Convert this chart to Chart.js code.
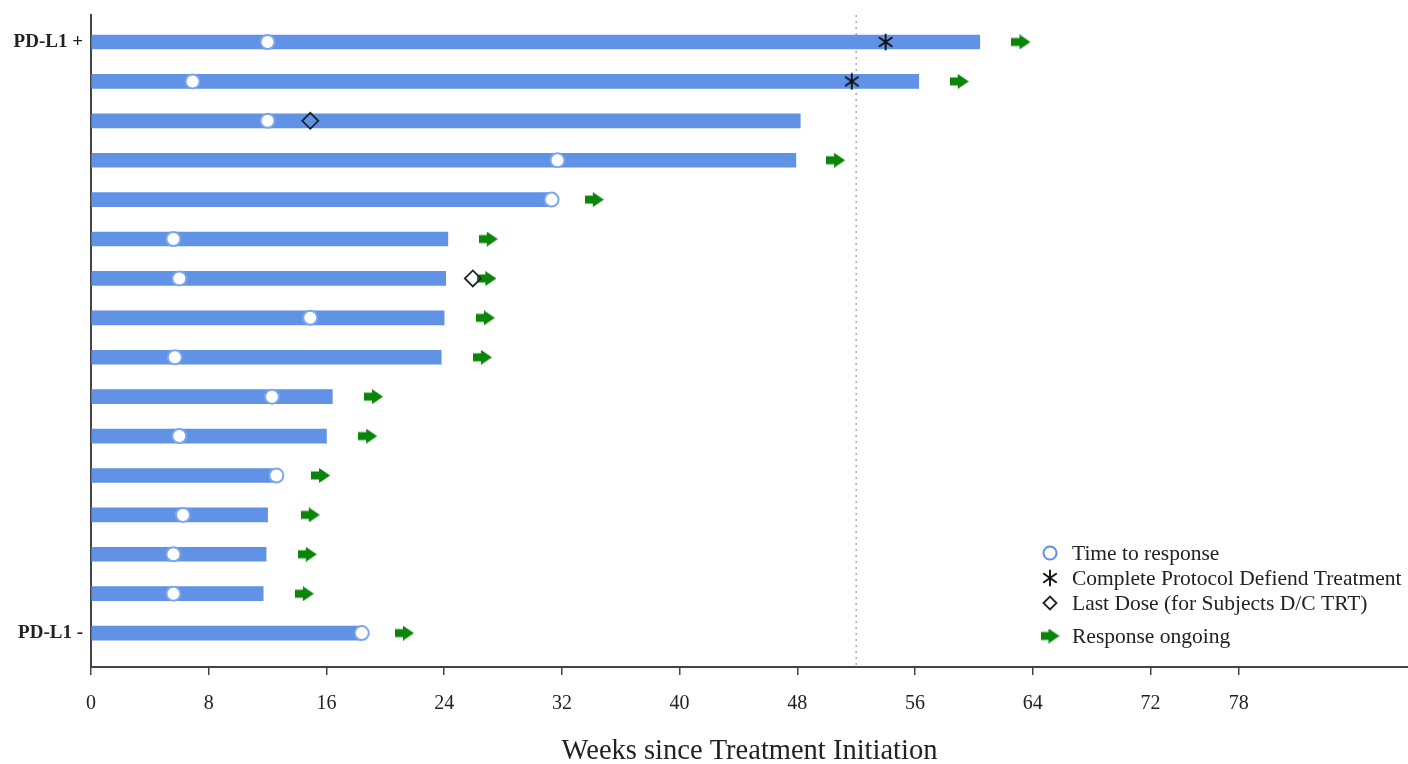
<!DOCTYPE html>
<html>
<head>
<meta charset="utf-8">
<script src="https://cdn.jsdelivr.net/npm/chart.js@4.4.0/dist/chart.umd.min.js"></script>
<style>
  html, body { margin: 0; background: #fff; overflow: hidden; }
  #wrap { position: absolute; left: 0; top: 0; width: 1408px; height: 764px; }
  #swim { display: block; }
</style>
</head>
<body>
<div id="wrap"><canvas id="swim"></canvas></div>
<script>
// one row per subject, top to bottom
const barEnd     = [60.4, 56.25, 48.2, 47.9, 31.3, 24.25, 24.1, 24.0, 23.8, 16.4, 16.0, 12.6, 12.0, 11.9, 11.7, 18.4];
const responseWk = [12.0, 6.9, 12.0, 31.7, 31.3, 5.6, 6.0, 14.9, 5.7, 12.3, 6.0, 12.6, 6.25, 5.6, 5.6, 18.4];
const completeWk = [54.0, 51.7, null, null, null, null, null, null, null, null, null, null, null, null, null, null];
const lastDoseWk = [null, null, 14.9, null, null, null, 25.95, null, null, null, null, null, null, null, null, null];
const ongoingWk  = [63.2, 59.0, null, 50.6, 34.2, 27.0, 26.9, 26.8, 26.6, 19.2, 18.8, 15.6, 14.9, 14.7, 14.5, 21.3];
const xTicks = [0, 8, 16, 24, 32, 40, 48, 56, 64, 72, 78];
const groupRows = [0, 15];
const groupLabels = ['PD-L1 +', 'PD-L1 -'];
const refWeek = 52;

const SERIF = '"Liberation Serif", "DejaVu Serif", serif';

const pts = arr => arr.map((v, i) => v == null ? null : {x: v, y: i}).filter(Boolean);

// green block arrow used as a point style
function makeArrow(){
  const c = document.createElement('canvas');
  c.width = 19; c.height = 15;
  const g = c.getContext('2d');
  g.fillStyle = '#0a850a';
  g.beginPath();
  g.moveTo(0, 3.5); g.lineTo(8, 3.5); g.lineTo(8, 0);
  g.lineTo(19, 7.5); g.lineTo(8, 15); g.lineTo(8, 11.5); g.lineTo(0, 11.5);
  g.closePath(); g.fill();
  return c;
}
// six-armed asterisk
function makeAsterisk(){
  const c = document.createElement('canvas');
  c.width = 18; c.height = 18;
  const g = c.getContext('2d');
  g.strokeStyle = '#111';
  g.lineWidth = 1.9;
  g.lineCap = 'round';
  [0, 55, 125].forEach(a => {
    const r = a * Math.PI / 180, dx = Math.sin(r) * 7.5, dy = Math.cos(r) * 7.5;
    g.beginPath(); g.moveTo(9 - dx, 9 - dy); g.lineTo(9 + dx, 9 + dy); g.stroke();
  });
  return c;
}
const arrow = makeArrow();
const asterisk = makeAsterisk();

const yMin = -0.685, yMax = 15.86;

const datasets = [
  { type: 'scatter', label: 'Time to response', data: pts(responseWk), order: 1,
    pointStyle: 'circle', pointRadius: 7, pointHoverRadius: 7,
    backgroundColor: '#fff', borderColor: '#7ea6ef', borderWidth: 2 },
  { type: 'scatter', label: 'Complete Protocol Defiend Treatment', data: pts(completeWk), order: 1,
    pointStyle: asterisk, pointRadius: 9, pointHoverRadius: 9 },
  { type: 'scatter', label: 'Last Dose (for Subjects D/C TRT)', data: pts(lastDoseWk), order: 1,
    pointStyle: 'rectRot', pointRadius: 8, pointHoverRadius: 8,
    backgroundColor: 'rgba(0,0,0,0)', borderColor: '#222', borderWidth: 1.8 },
  { type: 'scatter', label: 'Response ongoing', data: pts(ongoingWk), order: 2,
    pointStyle: arrow, pointRadius: 9, pointHoverRadius: 9 },
  { type: 'line', label: 'ref', data: [{x: refWeek, y: yMin}, {x: refWeek, y: yMax}], order: 6,
    borderColor: '#a8a8a8', borderWidth: 1.5, borderDash: [2, 4], pointRadius: 0, fill: false },
  { type: 'bar', label: 'duration', indexAxis: 'y', order: 5,
    data: barEnd.map((v, i) => ({x: v, y: i})),
    backgroundColor: '#6092e6', barThickness: 14 }
];

// draw the legend inside the plot, lower right
const legendRows = [553, 578, 603, 636];
const legendSize = [6.5, 8, 6.5, 9];
const cornerLegend = {
  id: 'cornerLegend',
  afterDraw(chart){
    const c = chart.ctx;
    c.save();
    datasets.slice(0, 4).forEach((ds, k) => {
      const y = legendRows[k];
      c.fillStyle = ds.backgroundColor || '#000';
      c.strokeStyle = k === 0 ? '#5b8ef0' : (ds.borderColor || '#000');
      c.lineWidth = ds.borderWidth || 1;
      Chart.helpers.drawPoint(c, {pointStyle: ds.pointStyle, radius: legendSize[k],
        rotation: 0, borderWidth: c.lineWidth}, 1050, y);
      c.fillStyle = '#222';
      c.font = '21.5px ' + SERIF;
      c.textBaseline = 'middle';
      c.textAlign = 'left';
      c.fillText(ds.label, 1072, y + 1);
    });
    c.restore();
  }
};

new Chart(document.getElementById('swim'), {
  type: 'scatter',
  data: { datasets },
  options: {
    responsive: true,
    maintainAspectRatio: false,
    animation: false,
    layout: { autoPadding: false, padding: { top: 15, right: 0, bottom: 0, left: 0 } },
    plugins: { legend: { display: false }, tooltip: { enabled: false } },
    scales: {
      x: {
        type: 'linear', min: 0, max: 89.5, offset: false,
        afterBuildTicks: s => { s.ticks = xTicks.map(v => ({value: v})); },
        afterFit: s => { s.height = 97; s.paddingLeft = 0; s.paddingRight = 0; },
        ticks: { color: '#222', padding: 17, font: { family: SERIF, size: 20 }, maxRotation: 0 },
        grid: { drawOnChartArea: false, drawTicks: true, tickLength: 8, color: '#444', lineWidth: 1.5, offset: false },
        border: { color: '#444', width: 2 },
        title: { display: true, text: 'Weeks since Treatment Initiation', color: '#222',
          font: { family: SERIF, size: 28.5 }, padding: { top: 0, bottom: -5 } }
      },
      y: {
        type: 'linear', min: yMin, max: yMax, reverse: true, offset: false,
        afterBuildTicks: s => { s.ticks = groupRows.map(v => ({value: v})); },
        afterFit: s => { s.width = 91; s.paddingTop = 0; s.paddingBottom = 0; },
        ticks: { color: '#222', padding: 8, font: { family: SERIF, size: 19, weight: 'bold' },
          callback: v => groupLabels[groupRows.indexOf(v)] },
        grid: { display: false, drawTicks: false, offset: false },
        border: { color: '#444', width: 2 }
      }
    }
  },
  plugins: [cornerLegend]
});
</script>
</body>
</html>
